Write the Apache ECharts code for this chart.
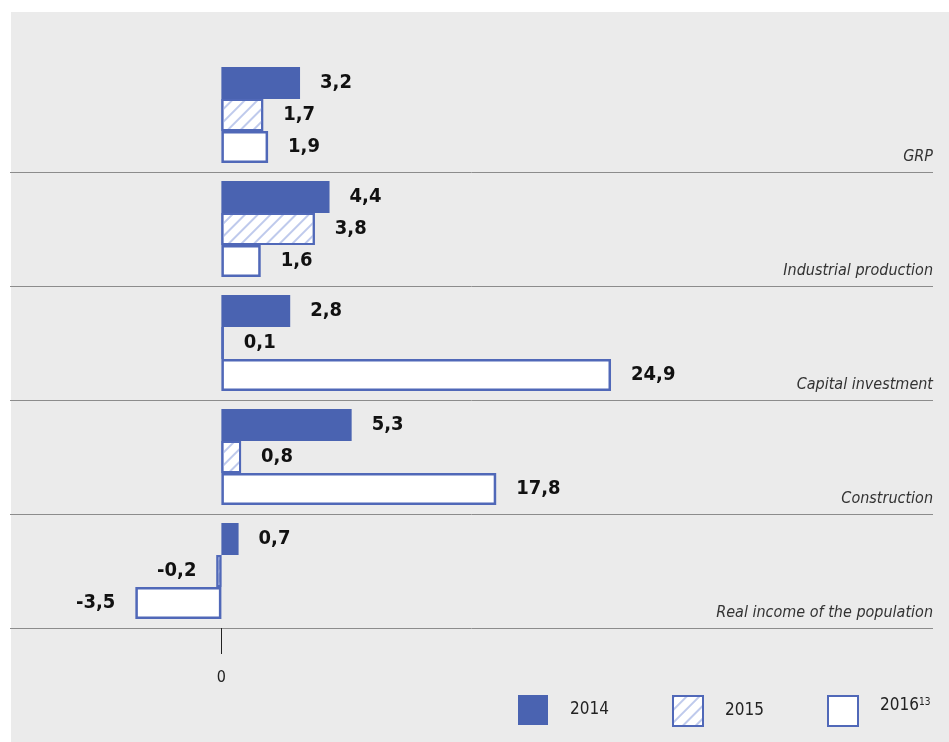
<!DOCTYPE html>
<html><head><meta charset="utf-8">
<script src="https://cdn.jsdelivr.net/npm/echarts@6/dist/echarts.min.js"></script>
<style>
html,body{margin:0;padding:0;background:#ffffff;}
#paper{position:absolute;left:11px;top:12px;width:938px;height:730px;background:#ebebeb;}
#chart{position:absolute;left:0;top:0;width:949px;height:742px;}
</style></head>
<body><div id="paper"></div><div id="chart"></div>
<script>
const categories = ['GRP', 'Industrial production', 'Capital investment', 'Construction', 'Real income of the population'];
const years = ['2014', '2015', '2016'];
const values2014 = [3.2, 4.4, 2.8, 5.3, 0.7];
const values2015 = [1.7, 3.8, 0.1, 0.8, -0.2];
const values2016 = [1.9, 1.6, 24.9, 17.8, -3.5];
const footnote2016 = '13';
const zeroTick = [0];

const FONT = "'Liberation Sans Narrow', 'DejaVu Sans Condensed', 'Roboto', sans-serif";
const BLUE = '#4a63b1';
const BORDER = '#5068b8';

function items(arr) {
  return arr.map(v => ({ value: v, label: { position: v < 0 ? 'left' : 'right' } }));
}
const labelCfg = {
  show: true,
  distance: 20,
  fontFamily: FONT,
  fontWeight: 'bold',
  fontSize: 20,
  color: '#111',
  formatter: p => String(p.value).replace('.', ',')
};
const legendText = { fontFamily: FONT, fontSize: 17, color: '#222', padding: [0, 0, 10, 17] };

const chart = echarts.init(document.getElementById('chart'), null, { renderer: 'canvas' });
chart.setOption({
  animation: false,
  grid: { left: 10, right: 16, top: 58, bottom: 114, containLabel: false },
  xAxis: {
    type: 'value',
    min: -8.6,
    max: 38,
    breaks: [
      { start: 6, end: 12.62, gap: 0.001 },
      { start: 19, end: 21.43, gap: 0.001 }
    ],
    breakArea: { show: false },
    axisLine: { show: false },
    splitLine: { show: false },
    axisTick: { show: true, customValues: zeroTick, length: 26, lineStyle: { color: '#222', width: 1 } },
    axisLabel: { show: true, customValues: zeroTick, margin: 42, fontFamily: FONT, fontSize: 16, color: '#222' }
  },
  yAxis: {
    type: 'category',
    data: categories,
    inverse: true,
    position: 'right',
    axisLine: { show: false },
    axisTick: { show: false },
    splitLine: { show: true, interval: (i) => i !== 0, lineStyle: { color: '#8c8c8c', width: 1 } },
    axisLabel: {
      inside: true, margin: 0, align: 'right', verticalAlign: 'middle',
      formatter: v => '{c|' + v + '}',
      rich: { c: { fontFamily: FONT, fontStyle: 'italic', fontSize: 16, color: '#333', padding: [84, 0, 0, 0] } }
    }
  },
  legend: [
    { data: ['2014'], left: 513, top: 690, itemWidth: 30, itemHeight: 30, icon: 'rect', textStyle: legendText },
    { data: ['2015'], left: 667, top: 690, itemWidth: 30, itemHeight: 30, icon: 'rect', textStyle: legendText },
    { data: ['2016'], left: 822, top: 690, itemWidth: 30, itemHeight: 30, icon: 'rect',
      formatter: n => '{a|' + n + '}{s|' + footnote2016 + '}',
      textStyle: { fontFamily: FONT, color: '#222',
        rich: { a: legendText,
                s: { fontFamily: FONT, fontSize: 10, color: '#222', padding: [0, 0, 18, 0] } } } }
  ],
  series: [
    { name: years[0], type: 'bar', data: items(values2014), barWidth: 32, barGap: '0%',
      itemStyle: { color: BLUE }, label: labelCfg },
    { name: years[1], type: 'bar', data: items(values2015), barWidth: 32, barGap: '0%',
      itemStyle: { color: '#ffffff', borderColor: BORDER, borderWidth: 2,
        decal: { symbol: 'rect', symbolSize: 1, color: '#bfcaec', dashArrayX: [1, 0], dashArrayY: [2, 7], rotation: -Math.PI / 4 } },
      label: labelCfg },
    { name: years[2], type: 'bar', data: items(values2016), barWidth: 32, barGap: '0%',
      itemStyle: { color: '#ffffff', borderColor: BORDER, borderWidth: 2.5 }, label: labelCfg }
  ]
});
</script></body></html>
